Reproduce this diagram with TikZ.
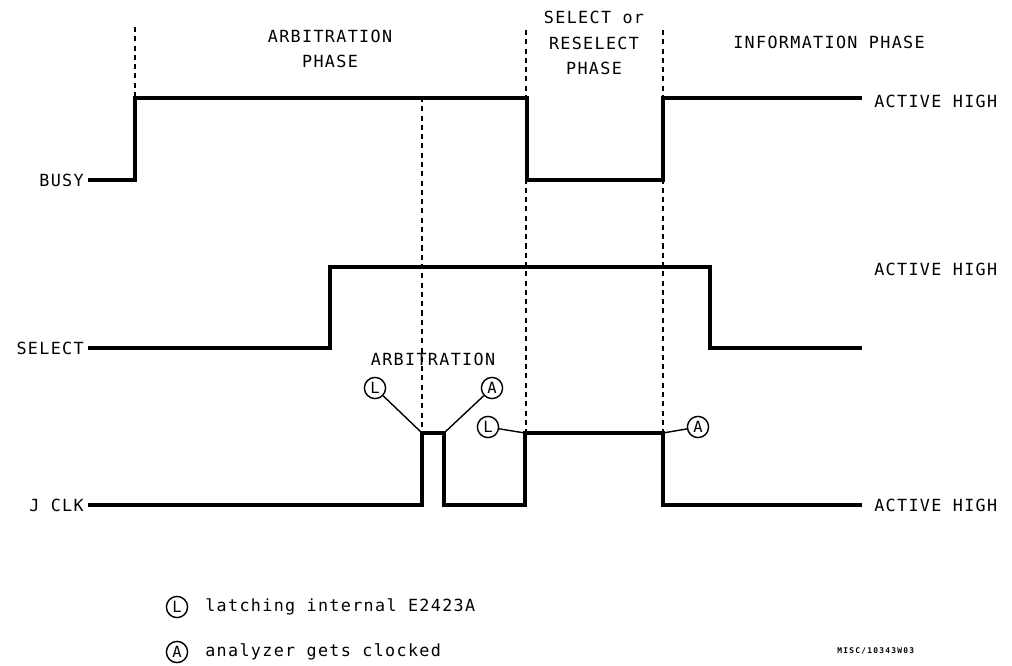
\documentclass[tikz,border=0pt]{standalone}
\usepackage{fontspec}
\setmainfont{DejaVu Sans Mono}[LetterSpace=8]
\newfontfamily\tagfont{DejaVu Sans Mono}[LetterSpace=16]
\usetikzlibrary{positioning}

\begin{document}
\begin{tikzpicture}[x=0.025cm, y=-0.025cm,
  lbl/.style ={font=\fontsize{11.9}{14}\selectfont, inner sep=0pt,
               align=center},
  sig/.style ={line width=2.7pt, line join=miter},
  phs/.style ={line width=1pt, dash pattern=on 3.6pt off 3pt},
  mrk/.style ={circle, draw, line width=1pt, minimum size=0.53cm,
               inner sep=0pt, font=\fontsize{11}{12}\selectfont},
  lead/.style={line width=1pt},
]
\useasboundingbox (0,0) rectangle (1012,665);

%% ═══ Phase titles ═══
\node[lbl] (arbph) at (330,49)  {ARBITRATION\\[4pt]PHASE};
\node[lbl] (selph) at (594,43)  {SELECT or\\[4pt]RESELECT\\[4pt]PHASE};
\node[lbl] (infph) at (829,42)  {INFORMATION PHASE};

%% ═══ Phase boundaries ═══
\coordinate (b1t) at (135,27);  \coordinate (b1b) at (135,97);
\coordinate (b2t) at (422,97);  \coordinate (b2b) at (422,432);
\coordinate (b3t) at (526,30);  \coordinate (b3b) at (526,432);
\coordinate (b4t) at (663,30);  \coordinate (b4b) at (663,432);
\draw[phs] (b1t) -- (b1b);
\draw[phs] (b2t) -- (b2b);
\draw[phs] (b3t) -- (b3b);
\draw[phs] (b4t) -- (b4b);

%% ═══ Signal names ═══
\node[lbl, anchor=east] (busy) at (84,180) {BUSY};
\node[lbl, anchor=east] (sel)  at (84,348) {SELECT};
\node[lbl, anchor=east] (jclk) at (84,505) {J CLK};

\node[lbl, anchor=west] (hi1) at (874,101) {ACTIVE HIGH};
\node[lbl, anchor=west] (hi2) at (874,269) {ACTIVE HIGH};
\node[lbl, anchor=west] (hi3) at (874,505) {ACTIVE HIGH};

%% ═══ Waveforms ═══
\draw[sig] (busy.east) ++(3pt,0) -- (135,180) -- (135,98) -- (527,98)
  -- (527,180) -- (663,180) -- (663,98) -- (862,98);
\draw[sig] (sel.east) ++(3pt,0) -- (330,348) -- (330,267) -- (710,267)
  -- (710,348) -- (862,348);

\coordinate (p1) at (422,433);
\coordinate (p2) at (444,433);
\coordinate (p3) at (525,433);
\coordinate (p4) at (663,433);
\draw[sig] (jclk.east) ++(3pt,0) -- (422,505) -- (p1) -- (p2) -- (444,505)
  -- (525,505) -- (p3) -- (p4) -- (663,505) -- (862,505);

%% ═══ Clock marks ═══
\node[lbl] (arbit) at (433,359) {ARBITRATION};
\node[mrk] (mL1) at (375,388) {L};
\node[mrk] (mA1) at (492,388) {A};
\node[mrk] (mL2) at (488,427) {L};
\node[mrk] (mA2) at (698,427) {A};
\draw[lead] (mL1) -- (p1);
\draw[lead] (mA1) -- (p2);
\draw[lead] (mL2) -- (p3);
\draw[lead] (mA2) -- (p4);

%% ═══ Legend ═══
\node[mrk] (kL) at (177,607) {L};
\node[mrk] (kA) at (177,652) {A};
\node[lbl, anchor=west] (kLt) at (205,607) {latching internal E2423A};
\node[lbl, anchor=west] (kAt) at (205,652) {analyzer gets clocked};

\node[font=\tagfont\bfseries\fontsize{5.6}{7}\selectfont, anchor=west,
      inner sep=0pt] (tag) at (837,651) {MISC/10343W03};

\end{tikzpicture}
\end{document}
